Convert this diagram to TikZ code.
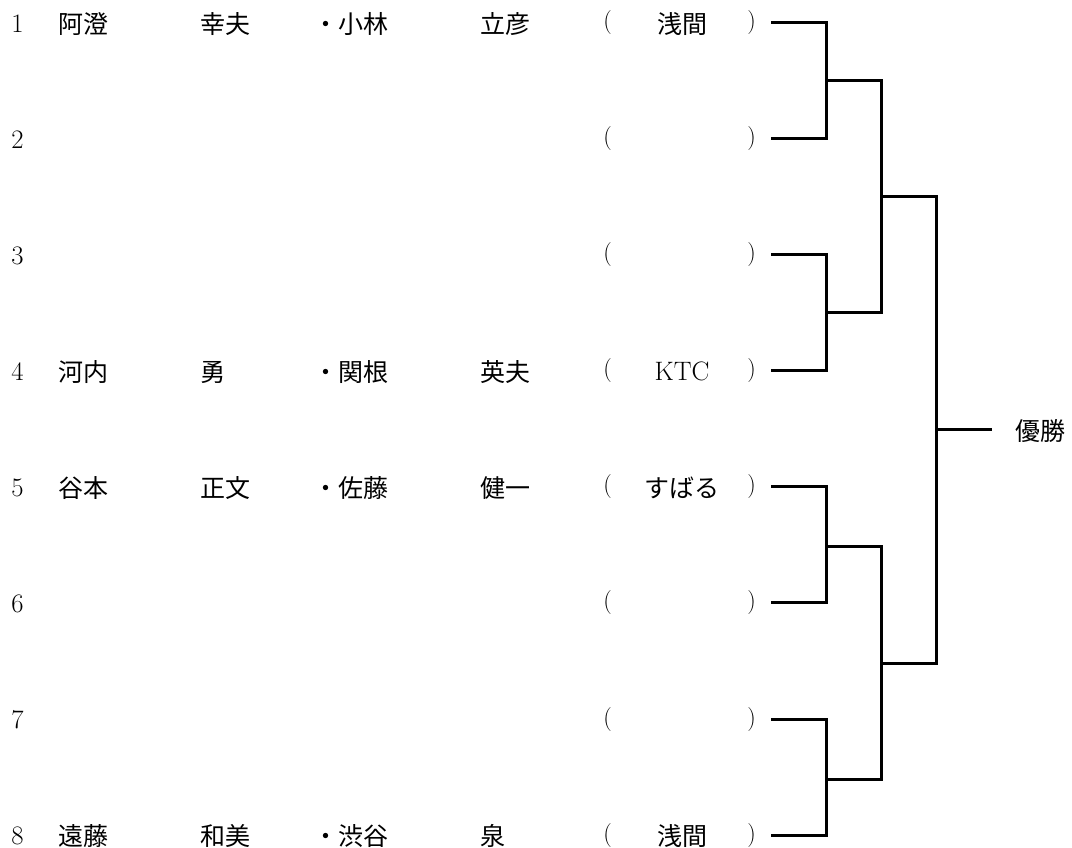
\documentclass[tikz,border=0pt]{standalone}
\usepackage{fontspec}
\newfontfamily\jp{Noto Sans CJK JP}
\begin{document}
\begin{tikzpicture}[x=0.75pt,y=-0.75pt,
  jtext/.style={inner sep=0pt,anchor=base west,font=\jp\fontsize{18.75pt}{20pt}\selectfont},
  ctext/.style={inner sep=0pt,anchor=base,font=\jp\fontsize{18.75pt}{20pt}\selectfont},
  numtext/.style={inner sep=0pt,anchor=base,font=\fontsize{20pt}{22pt}\selectfont},
  ltext/.style={inner sep=0pt,anchor=base,font=\fontsize{20pt}{22pt}\selectfont},
  partext/.style={inner sep=0pt,anchor=base,font=\fontsize{18pt}{20pt}\selectfont},
  bracket/.style={line width=2.25pt,line join=miter}]
\useasboundingbox (0,0) rectangle (1072,848);
% rows
\foreach \i in {1,...,8}{
  \pgfmathsetmacro{\yy}{23+(\i-1)*116}
  \node[numtext] (n\i) at (17.5,\yy+9.5) {\i};
  \node[partext] (lp\i) at (607.5,\yy+6) {(};
  \node[partext] (rp\i) at (751.5,\yy+6) {)};
  \coordinate (e\i) at (771,\yy);
}
% row 1
\node[jtext] (f1) at (58.5,33.5) {阿澄};
\node[jtext] (g1) at (200.5,33.5) {幸夫};
\node[jtext] (h1) at (313.5,33.5) {・小林};
\node[jtext] (k1) at (480.5,33.5) {立彦};
\node[ctext] (c1) at (682,33.5) {浅間};
% row 4
\node[jtext] (f4) at (58.5,381.5) {河内};
\node[jtext] (g4) at (200.5,381.5) {勇};
\node[jtext] (h4) at (313.5,381.5) {・関根};
\node[jtext] (k4) at (480.5,381.5) {英夫};
\node[ltext] (c4) at (682,380.5) {KTC};
% row 5
\node[jtext] (f5) at (58.5,497.5) {谷本};
\node[jtext] (g5) at (200.5,497.5) {正文};
\node[jtext] (h5) at (313.5,497.5) {・佐藤};
\node[jtext] (k5) at (480.5,497.5) {健一};
\node[ctext] (c5) at (682,497.5) {すばる};
% row 8
\node[jtext] (f8) at (58.5,845.5) {遠藤};
\node[jtext] (g8) at (200.5,845.5) {和美};
\node[jtext] (h8) at (313.5,845.5) {・渋谷};
\node[jtext] (k8) at (480.5,845.5) {泉};
\node[ctext] (c8) at (682,845.5) {浅間};
% bracket junctions
\coordinate (a1) at (826,81);
\coordinate (a2) at (826,313);
\coordinate (a3) at (826,547);
\coordinate (a4) at (826,779);
\coordinate (b1) at (881,197);
\coordinate (b2) at (881,663);
\coordinate (c) at (936,430);
\coordinate (fin) at (992,430);
\node[jtext] (win) at (1015.5,440.5) {優勝};
% bracket lines
\draw[bracket] (e1) -| (a1) |- (e2);
\draw[bracket] (e3) -| (a2) |- (e4);
\draw[bracket] (e5) -| (a3) |- (e6);
\draw[bracket] (e7) -| (a4) |- (e8);
\draw[bracket] (a1) -| (b1) |- (a2);
\draw[bracket] (a3) -| (b2) |- (a4);
\draw[bracket] (b1) -| (c) |- (b2);
\draw[bracket] (c) -- (fin);
\end{tikzpicture}
\end{document}
